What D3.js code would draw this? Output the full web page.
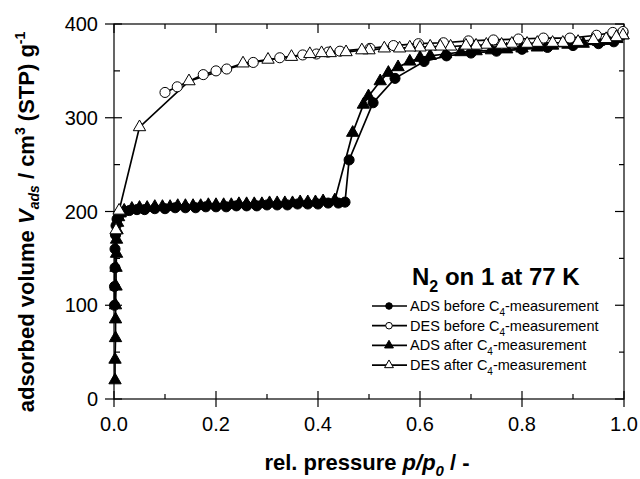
<!DOCTYPE html>
<html>
<head>
<meta charset="utf-8">
<script src="https://cdn.jsdelivr.net/npm/d3@7"></script>
<style>
  body { margin: 0; background: #fff; }
  text { font-family: Arial, "Liberation Sans", sans-serif; fill: #000; }
</style>
</head>
<body>
<script>
// N2 isotherms at 77 K: [p/p0, V_ads]
var adsBefore = [
  [0.001, 100], [0.001, 120], [0.002, 140], [0.002, 160], [0.003, 175], [0.004, 185],
  [0.006, 192], [0.010, 197], [0.015, 199], [0.020, 200], [0.030, 201], [0.045, 202],
  [0.060, 202], [0.080, 203], [0.100, 203], [0.120, 204], [0.140, 204], [0.160, 204],
  [0.180, 205], [0.200, 205], [0.220, 205], [0.240, 206], [0.260, 206], [0.280, 206],
  [0.300, 207], [0.320, 207], [0.340, 207], [0.360, 208], [0.380, 208], [0.400, 208],
  [0.420, 209], [0.440, 209], [0.453, 210], [0.461, 255], [0.508, 316], [0.551, 342],
  [0.608, 360], [0.652, 366], [0.700, 369], [0.750, 371], [0.800, 373], [0.850, 375],
  [0.900, 377], [0.950, 379], [0.980, 381], [0.995, 388], [0.998, 391]
];
var adsAfter = [
  [0.002, 20], [0.002, 42], [0.003, 65], [0.003, 85], [0.003, 100], [0.004, 120],
  [0.004, 140], [0.005, 155], [0.005, 170], [0.006, 180], [0.007, 188], [0.009, 194],
  [0.012, 198], [0.020, 201], [0.035, 203], [0.050, 204], [0.065, 204], [0.080, 205],
  [0.095, 205], [0.110, 205], [0.125, 206], [0.140, 206], [0.155, 206], [0.170, 206],
  [0.185, 207], [0.200, 207], [0.215, 207], [0.230, 207], [0.245, 208], [0.260, 208],
  [0.275, 208], [0.290, 208], [0.305, 209], [0.320, 209], [0.335, 209], [0.350, 209],
  [0.365, 210], [0.380, 210], [0.395, 210], [0.410, 211], [0.433, 212], [0.468, 284],
  [0.489, 314], [0.499, 323], [0.522, 339], [0.538, 348], [0.557, 354], [0.580, 360],
  [0.600, 364], [0.620, 366], [0.650, 368], [0.680, 370], [0.710, 371], [0.740, 372],
  [0.770, 373], [0.800, 374], [0.830, 375], [0.860, 377], [0.890, 378], [0.920, 379],
  [0.950, 381], [0.970, 382], [0.986, 384], [0.998, 388]
];
var desBefore = [
  [0.998, 392], [0.978, 391], [0.946, 388], [0.894, 385], [0.842, 385], [0.793, 384],
  [0.744, 383], [0.695, 382], [0.646, 380], [0.597, 379], [0.548, 377], [0.502, 374],
  [0.443, 371], [0.420, 370], [0.397, 368], [0.370, 367], [0.325, 364], [0.273, 359],
  [0.221, 352], [0.200, 350], [0.175, 346], [0.124, 333], [0.100, 327]
];
var desAfter = [
  [0.998, 388], [0.985, 386], [0.965, 384], [0.940, 383], [0.910, 381], [0.880, 380],
  [0.860, 380], [0.830, 380], [0.810, 379], [0.780, 379], [0.760, 378], [0.730, 378],
  [0.710, 377], [0.690, 377], [0.660, 376], [0.640, 376], [0.620, 376], [0.600, 375],
  [0.580, 375], [0.560, 374], [0.530, 374], [0.500, 372], [0.486, 372], [0.455, 370],
  [0.424, 369], [0.407, 369], [0.384, 368], [0.348, 365], [0.302, 362], [0.253, 358],
  [0.147, 339], [0.050, 290], [0.010, 201], [0.004, 180]
];

var xTicks = [0, 0.2, 0.4, 0.6, 0.8, 1.0];
var xMinor = [0.1, 0.3, 0.5, 0.7, 0.9];
var yTicks = [0, 100, 200, 300, 400];
var yMinor = [50, 150, 250, 350];

var width = 640, height = 479;
// plot box (window.top is read-only, so no "top" here)
var box = { l: 114, r: 624, t: 24, b: 399 };

var svg = d3.select("body").append("svg")
  .attr("width", width)
  .attr("height", height);

svg.append("rect").attr("width", width).attr("height", height).attr("fill", "#fff");

var x = d3.scaleLinear().domain([0, 1]).range([box.l, box.r]);
var y = d3.scaleLinear().domain([0, 400]).range([box.b, box.t]);

// frame
svg.append("rect")
  .attr("x", box.l).attr("y", box.t)
  .attr("width", box.r - box.l).attr("height", box.b - box.t)
  .attr("fill", "none").attr("stroke", "#000").attr("stroke-width", 1.2);

var ticks = svg.append("g").attr("stroke", "#000").attr("stroke-width", 1.2);

// bottom + top ticks
xTicks.forEach(d => {
  ticks.append("line").attr("x1", x(d)).attr("x2", x(d)).attr("y1", box.b - 8).attr("y2", box.b + 8);
  ticks.append("line").attr("x1", x(d)).attr("x2", x(d)).attr("y1", box.t).attr("y2", box.t + 9);
});
xMinor.forEach(d => {
  ticks.append("line").attr("x1", x(d)).attr("x2", x(d)).attr("y1", box.b - 5).attr("y2", box.b);
  ticks.append("line").attr("x1", x(d)).attr("x2", x(d)).attr("y1", box.t).attr("y2", box.t + 5);
});
// left + right ticks
yTicks.forEach(d => {
  ticks.append("line").attr("y1", y(d)).attr("y2", y(d)).attr("x1", box.l - 9).attr("x2", box.l + 8);
  ticks.append("line").attr("y1", y(d)).attr("y2", y(d)).attr("x1", box.r - 9).attr("x2", box.r);
});
yMinor.forEach(d => {
  ticks.append("line").attr("y1", y(d)).attr("y2", y(d)).attr("x1", box.l).attr("x2", box.l + 6);
  ticks.append("line").attr("y1", y(d)).attr("y2", y(d)).attr("x1", box.r - 5).attr("x2", box.r);
});

// tick labels
svg.append("g").selectAll("text")
  .data(xTicks).enter().append("text")
  .attr("x", d => x(d)).attr("y", box.b + 32)
  .attr("text-anchor", "middle").attr("font-size", "20px")
  .text(d => d.toFixed(1));

svg.append("g").selectAll("text")
  .data(yTicks).enter().append("text")
  .attr("x", box.l - 16).attr("y", d => y(d) + 7)
  .attr("text-anchor", "end").attr("font-size", "20px")
  .text(d => d);

// axis titles
var xt = svg.append("text")
  .attr("x", 367).attr("y", 470)
  .attr("text-anchor", "middle")
  .attr("font-size", "22px").attr("font-weight", "bold");
xt.append("tspan").text("rel. pressure ");
xt.append("tspan").attr("font-style", "italic").text("p/p");
xt.append("tspan").attr("font-style", "italic").attr("font-size", "15px").attr("dy", 6).text("0");
xt.append("tspan").attr("dy", -6).text(" / -");

var yt = svg.append("text")
  .attr("transform", "translate(34,222) rotate(-90)")
  .attr("text-anchor", "middle")
  .attr("font-size", "22px").attr("font-weight", "bold");
yt.append("tspan").text("adsorbed volume ");
yt.append("tspan").attr("font-style", "italic").text("V");
yt.append("tspan").attr("font-style", "italic").attr("font-size", "14px").attr("dy", 5).text("ads");
yt.append("tspan").attr("dy", -5).text(" / cm");
yt.append("tspan").attr("font-size", "14px").attr("dy", -9).text("3");
yt.append("tspan").attr("dy", 9).text(" (STP) g");
yt.append("tspan").attr("font-size", "14px").attr("dy", -9).text("-1");

// series
var line = d3.line().x(d => x(d[0])).y(d => y(d[1]));
var circle = d3.symbol().type(d3.symbolCircle).size(80);
var tri = d3.symbol().type(d3.symbolTriangle).size(66);

var series = [
  { data: adsBefore, sym: circle, fill: "#000" },
  { data: adsAfter, sym: tri, fill: "#000" },
  { data: desBefore, sym: circle, fill: "#fff" },
  { data: desAfter, sym: tri, fill: "#fff" }
];

var plot = svg.append("g");
series.forEach(s => {
  plot.append("path")
    .attr("d", line(s.data))
    .attr("fill", "none").attr("stroke", "#000").attr("stroke-width", 1.7);
});
series.forEach(s => {
  plot.append("g").selectAll("path")
    .data(s.data).enter().append("path")
    .attr("d", s.sym)
    .attr("transform", d => `translate(${x(d[0])},${y(d[1])})`)
    .attr("fill", s.fill).attr("stroke", "#000").attr("stroke-width", 1);
});

// legend
var lt = svg.append("text")
  .attr("x", 412).attr("y", 285)
  .attr("font-size", "24px").attr("font-weight", "bold");
lt.append("tspan").text("N");
lt.append("tspan").attr("font-size", "16px").attr("dy", 7).text("2");
lt.append("tspan").attr("dy", -7).text(" on 1 at 77 K");

var legendNames = [["ADS before C", "-measurement"], ["DES before C", "-measurement"],
                   ["ADS after C", "-measurement"], ["DES after C", "-measurement"]];
var legendSym = [d3.symbol().type(d3.symbolCircle).size(34), d3.symbol().type(d3.symbolCircle).size(34),
                 d3.symbol().type(d3.symbolTriangle).size(34), d3.symbol().type(d3.symbolTriangle).size(34)];
var legendFill = ["#000", "#fff", "#000", "#fff"];

legendNames.forEach((n, i) => {
  var cy = 306 + i * 19.7;
  svg.append("line").attr("x1", 372).attr("x2", 407).attr("y1", cy).attr("y2", cy)
    .attr("stroke", "#000").attr("stroke-width", 1.7);
  svg.append("path").attr("d", legendSym[i]())
    .attr("transform", `translate(389,${cy})`)
    .attr("fill", legendFill[i]).attr("stroke", "#000").attr("stroke-width", 1);
  var t = svg.append("text").attr("x", 410).attr("y", cy + 5).attr("font-size", "14.5px");
  t.append("tspan").text(n[0]);
  t.append("tspan").attr("font-size", "10px").attr("dy", 5).text("4");
  t.append("tspan").attr("dy", -5).text(n[1]);
});
</script>
</body>
</html>
